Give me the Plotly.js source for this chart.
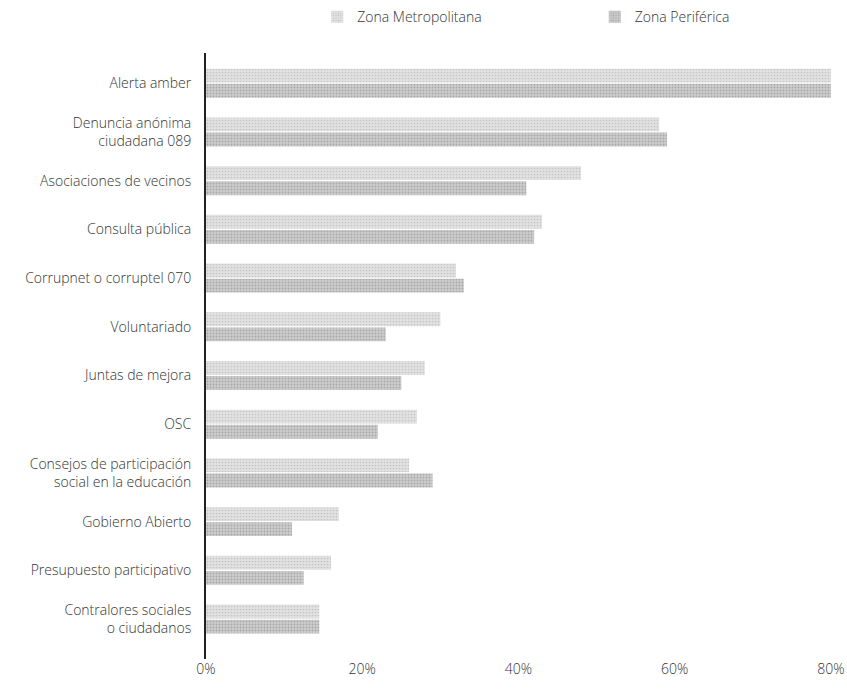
<!DOCTYPE html>
<html>
<head>
<meta charset="utf-8">
<script src="https://cdn.plot.ly/plotly-3.0.1.min.js"></script>
<style>html,body{margin:0;padding:0;background:#fff;}#chart{width:847px;height:689px;}</style>
</head>
<body>
<div id="chart"></div>
<script>
const categories = [
  "Alerta amber",
  "Denuncia anónima<br>ciudadana 089",
  "Asociaciones de vecinos",
  "Consulta pública",
  "Corrupnet o corruptel 070",
  "Voluntariado",
  "Juntas de mejora",
  "OSC",
  "Consejos de participación<br>social en la educación",
  "Gobierno Abierto",
  "Presupuesto participativo",
  "Contralores sociales<br>o ciudadanos"
];
const metropolitana = [80, 58, 48, 43, 32, 30, 28, 27, 26, 17, 16, 14.5];
const periferica    = [80, 59, 41, 42, 33, 23, 25, 22, 29, 11, 12.5, 14.5];
const xTicks = [0, 20, 40, 60, 80];
const xTickText = ["0%", "20%", "40%", "60%", "80%"];

const fontFam = "'Open Sans', 'DejaVu Sans', sans-serif";
const txt = {family: fontFam, size: 14, color: '#333333', weight: 300};

const traces = [
  {
    type: 'bar', orientation: 'h', name: 'Zona Metropolitana', legend: 'legend',
    y: categories, x: metropolitana,
    marker: {color: '#dadada', line: {width: 0},
      pattern: {shape: '.', fgcolor: '#c4c4c4', bgcolor: '#e2e2e2', size: 3, solidity: 0.25}},
    hoverinfo: 'x+y'
  },
  {
    type: 'bar', orientation: 'h', name: 'Zona Periférica', legend: 'legend2',
    y: categories, x: periferica,
    marker: {color: '#c6c6c6', line: {width: 0},
      pattern: {shape: '.', fgcolor: '#a8a8a8', bgcolor: '#cdcdcd', size: 3, solidity: 0.3}},
    hoverinfo: 'x+y'
  }
];

const layout = {
  width: 847, height: 689,
  paper_bgcolor: '#ffffff', plot_bgcolor: '#ffffff',
  margin: {l: 206, r: 16, t: 53, b: 30, autoexpand: false},
  font: txt,
  barmode: 'group', bargap: 0.38, bargroupgap: 0.08,
  showlegend: true,
  legend: {orientation: 'h', xref: 'paper', yref: 'container', x: 0.178, xanchor: 'left', y: 0.975, yanchor: 'middle', font: txt, bgcolor: 'rgba(0,0,0,0)'},
  legend2: {orientation: 'h', xref: 'paper', yref: 'container', x: 0.622, xanchor: 'left', y: 0.975, yanchor: 'middle', font: txt, bgcolor: 'rgba(0,0,0,0)'},
  xaxis: {range: [0, 80], tickvals: xTicks, ticktext: xTickText,
    showgrid: false, zeroline: false, showline: false, ticks: '',
    tickfont: txt, fixedrange: true, automargin: false},
  yaxis: {type: 'category', range: [11.82, -0.62], autorange: false,
    showgrid: false, zeroline: false, showline: true, linecolor: '#222', linewidth: 2,
    ticks: '', ticklabelstandoff: 10, automargin: false,
    tickfont: txt, fixedrange: true}
};

Plotly.newPlot('chart', traces, layout, {displayModeBar: false, staticPlot: true});
</script>
</body>
</html>
